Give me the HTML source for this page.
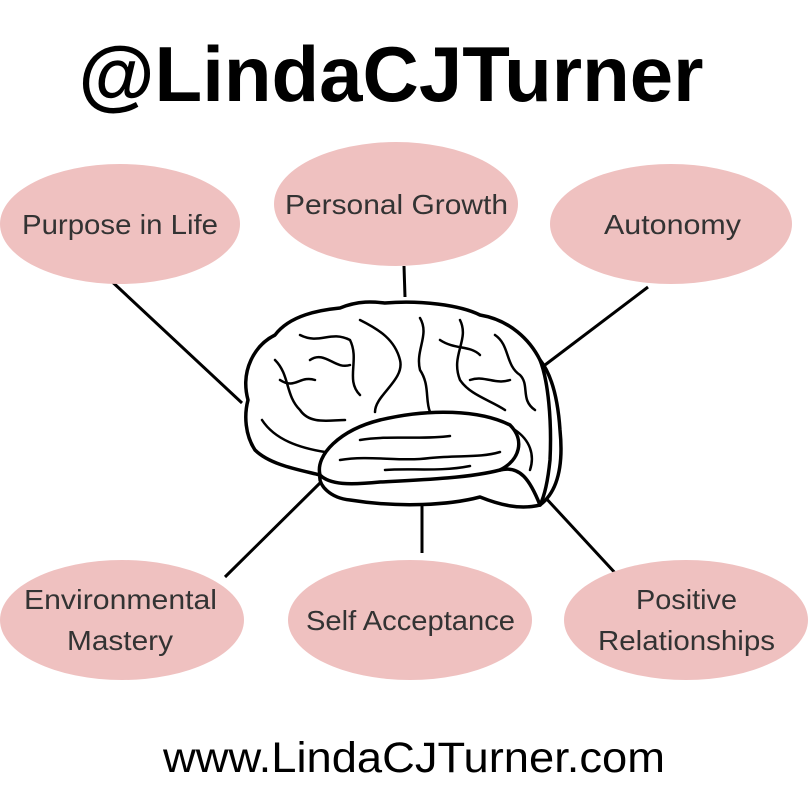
<!DOCTYPE html>
<html><head><style>
body{margin:0;background:#fff;}
svg{display:block;}
text{font-family:"Liberation Sans",sans-serif;}
</style></head><body>
<svg width="809" height="809" viewBox="0 0 809 809">
<text x="391" y="101" text-anchor="middle" font-size="78" font-weight="bold" fill="#000">@LindaCJTurner</text>
<g stroke="#000" stroke-width="3" fill="none">
<line x1="107" y1="277" x2="242" y2="403"/>
<line x1="404" y1="266" x2="405" y2="297"/>
<line x1="648" y1="287" x2="541" y2="368"/>
<line x1="320" y1="483" x2="225" y2="577"/>
<line x1="422" y1="492" x2="422" y2="553"/>
<line x1="543" y1="495" x2="617" y2="575"/>
</g>
<g fill="#efc1c0">
<ellipse cx="120" cy="224" rx="120" ry="60"/>
<ellipse cx="396" cy="204" rx="122" ry="62"/>
<ellipse cx="671" cy="224" rx="121" ry="60"/>
<ellipse cx="122" cy="620" rx="122" ry="60"/>
<ellipse cx="410" cy="620" rx="122" ry="60"/>
<ellipse cx="686" cy="620" rx="122" ry="60"/>
</g>
<g font-size="28" fill="#333" lengthAdjust="spacingAndGlyphs">
<text x="22" y="234" textLength="196" lengthAdjust="spacingAndGlyphs">Purpose in Life</text>
<text x="285" y="214" textLength="223" lengthAdjust="spacingAndGlyphs">Personal Growth</text>
<text x="604" y="234" textLength="137" lengthAdjust="spacingAndGlyphs">Autonomy</text>
<text x="24" y="609" textLength="193" lengthAdjust="spacingAndGlyphs">Environmental</text>
<text x="67" y="650" textLength="106" lengthAdjust="spacingAndGlyphs">Mastery</text>
<text x="306" y="630" textLength="209" lengthAdjust="spacingAndGlyphs">Self Acceptance</text>
<text x="636" y="609" textLength="101" lengthAdjust="spacingAndGlyphs">Positive</text>
<text x="598" y="650" textLength="177" lengthAdjust="spacingAndGlyphs">Relationships</text>
</g>
<g stroke="#000" stroke-width="3.5" fill="#fff" stroke-linejoin="round" stroke-linecap="round">
<path d="M248,400 C240,370 255,345 275,335 C290,315 320,310 340,308 C360,300 375,302 385,303 C420,300 460,305 480,315 C510,320 530,340 540,360 C552,375 558,400 560,430 C563,460 560,490 540,505 C520,510 500,505 480,497 C450,505 400,508 350,500 C330,498 318,485 320,475 C300,470 270,465 255,450 C245,435 244,415 248,400 Z"/>
<path d="M320,475 C315,455 340,430 380,420 C430,408 480,410 510,425 C525,440 520,460 500,470 C470,478 420,480 380,482 C350,485 330,485 320,475 Z"/>
<path d="M500,470 C520,465 530,480 540,505" fill="none"/>
<path d="M540,360 C548,380 552,420 550,460 C548,480 545,495 540,505" fill="none"/>
</g>
<g stroke="#000" stroke-width="2.5" fill="none" stroke-linecap="round">
<path d="M262,420 C275,440 300,448 325,452"/>
<path d="M275,360 C290,375 285,395 300,410 C310,425 330,420 345,420"/>
<path d="M300,335 C320,345 330,330 350,340 C360,360 345,380 360,395"/>
<path d="M360,320 C380,330 395,340 400,360 C405,380 375,395 375,412"/>
<path d="M420,318 C430,335 415,350 420,370 C430,385 425,400 430,412"/>
<path d="M460,320 C470,340 450,355 460,380 C470,395 490,400 505,410"/>
<path d="M495,335 C510,345 505,365 520,375 C530,385 520,400 535,410"/>
<path d="M340,460 C370,455 400,462 430,458 C460,455 480,458 500,452"/>
<path d="M360,440 C390,435 420,440 450,436"/>
<path d="M515,430 C530,440 535,455 530,470"/>
<path d="M280,380 C295,390 300,375 315,380"/>
<path d="M310,360 C325,350 335,370 350,365"/>
<path d="M440,340 C455,350 470,345 480,355"/>
<path d="M470,380 C485,375 495,385 510,380"/>
<path d="M385,470 C410,468 440,472 470,466"/>
</g>
<text x="163" y="772" textLength="502" lengthAdjust="spacingAndGlyphs" font-size="43" fill="#000">www.LindaCJTurner.com</text>
</svg>
</body></html>
